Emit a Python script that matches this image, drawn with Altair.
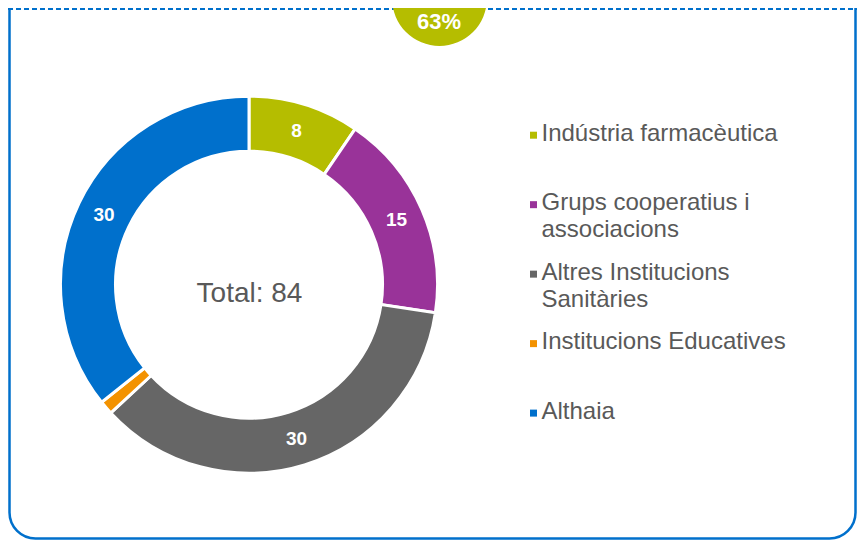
import altair as alt
import pandas as pd

# ---- data ----
categories = ["Indústria farmacèutica", "Grups cooperatius i associacions",
              "Altres Institucions Sanitàries", "Institucions Educatives", "Althaia"]
legend_labels = ["Indústria farmacèutica", "Grups cooperatius i\nassociacions",
                 "Altres Institucions\nSanitàries", "Institucions Educatives", "Althaia"]
values = [8, 15, 30, 1, 30]
colors = ["#B5BD00", "#993399", "#666666", "#F39200", "#0070CC"]
total_text = "Total: 84"
badge_text = "63%"

FONT = "Liberation Sans"
W, H = 849, 532
CX, CY = 241, 276.7

df = pd.DataFrame({
    "cat": categories,
    "value": values,
    "idx": list(range(len(categories))),
    "label": [str(v) if v > 1 else "" for v in values],
})
leg = pd.DataFrame({"cat": categories, "text": legend_labels,
                    "idx": list(range(len(categories)))})

color_scale = alt.Scale(domain=categories, range=colors)

base = alt.Chart(df).encode(
    theta=alt.Theta("value:Q", stack=True),
    order=alt.Order("idx:Q"),
)

arcs = base.mark_arc(innerRadius=133.5, outerRadius=188.5, stroke="white",
                     strokeWidth=3).encode(
    color=alt.Color("cat:N", scale=color_scale, legend=None),
    x=alt.value(CX), y=alt.value(CY),
)

arc_labels = base.mark_text(radius=161, fontSize=19, fontWeight="bold",
                            color="white", font=FONT).encode(
    text="label:N", x=alt.value(CX), y=alt.value(CY),
)

ysc = alt.Scale(domain=[0, 4], range=[132.7, 410.6])

leg_sq = alt.Chart(leg).mark_square(size=49, filled=True, opacity=1,
                                    yOffset=-5.5).encode(
    x=alt.value(525.5),
    y=alt.Y("idx:Q", scale=ysc, axis=None),
    color=alt.Color("cat:N", scale=color_scale, legend=None),
)

leg_txt = alt.Chart(leg).mark_text(align="left", baseline="alphabetic",
                                   fontSize=24, lineHeight=27, lineBreak="\n",
                                   color="#595959", font=FONT).encode(
    x=alt.value(533.5),
    y=alt.Y("idx:Q", scale=ysc, axis=None),
    text="text:N",
)

one = pd.DataFrame({"t": [total_text], "b": [badge_text]})

total = alt.Chart(one).mark_text(align="center", baseline="alphabetic",
                                 fontSize=28, color="#595959", font=FONT).encode(
    x=alt.value(241.5), y=alt.value(293.7), text="t:N")

frame = alt.Chart(one).mark_rect(fill=None, stroke="#0070CC", strokeWidth=2.5,
                                 cornerRadius=26).encode(
    x=alt.value(1.5), x2=alt.value(W - 1.5),
    y=alt.value(-40), y2=alt.value(H - 1.5))

dash = alt.Chart(one).mark_rule(color="#0070CC", strokeWidth=2,
                                strokeDash=[5, 3]).encode(
    x=alt.value(0), x2=alt.value(W), y=alt.value(1))

badge = alt.Chart(one).mark_circle(size=3.14159 * 53.5 ** 2, color="#B5BD00",
                                   opacity=1).encode(
    x=alt.value(431.5), y=alt.value(-9.5))

badge_txt = alt.Chart(one).mark_text(align="center", baseline="alphabetic",
                                     fontSize=22, fontWeight="bold",
                                     color="white", font=FONT).encode(
    x=alt.value(431), y=alt.value(21.3), text="b:N")

chart = alt.layer(frame, dash, badge, badge_txt, arcs, arc_labels, total,
                  leg_sq, leg_txt).properties(
    width=W, height=H, padding=0,
    autosize=alt.AutoSizeParams(type="none"),
).configure_view(stroke=None)

chart.save("out.html", embed_options={"renderer": "svg", "actions": False})
